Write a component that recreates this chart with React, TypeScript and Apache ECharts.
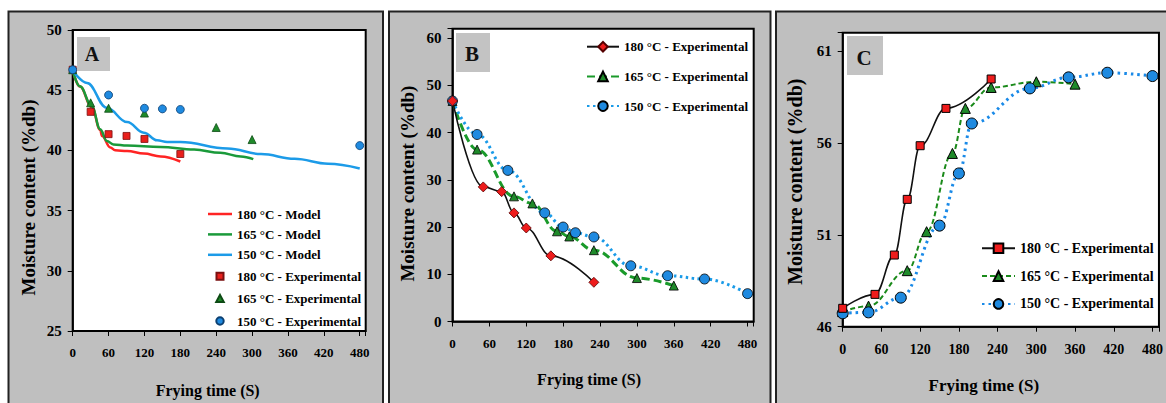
import React, { useEffect, useRef } from 'react';
import * as echarts from 'echarts';

// ---------- Data ----------
const yTicksA = [25, 30, 35, 40, 45, 50];
const yTicksB = [0, 10, 20, 30, 40, 50, 60];
const yTicksC = [46, 51, 56, 61];
const timeTicks = [0, 60, 120, 180, 240, 300, 360, 420, 480];

// Panel A – model curves (time s, moisture %db)
const modelA180 = [[0, 46.64], [12, 45.3], [32, 43.6], [46, 41.7], [49, 41.2], [63, 40.24], [71, 40.02], [91, 39.94], [119, 39.74], [147, 39.5], [180, 39.08]];
const modelA165 = [[0, 46.64], [12, 45.32], [32, 43.67], [46, 41.75], [57, 40.79], [68, 40.5], [91, 40.4], [147, 40.29], [203, 40.07], [247, 39.8], [281, 39.5], [302, 39.27]];
const modelA150 = [[0, 46.64], [24, 45.6], [57, 43.54], [91, 42.35], [119, 41.47], [141, 40.84], [158, 40.7], [180, 40.7], [259, 40.16], [315, 39.7], [371, 39.3], [427, 38.89], [480, 38.5]];
// Panel A – experimental points
const expA180 = [[0, 46.7], [30, 43.2], [60, 41.35], [90, 41.2], [120, 40.95], [180, 39.7]];
const expA165 = [[0, 46.7], [30, 43.95], [60, 43.5], [120, 43.1], [240, 41.9], [300, 40.9]];
const expA150 = [[0, 46.7], [60, 44.6], [120, 43.5], [150, 43.45], [180, 43.4], [480, 40.4]];

// Panel B
const expB180 = [[0, 46.7], [50, 28.5], [80, 27.5], [100, 23.0], [120, 19.8], [160, 13.9], [230, 8.3]];
const expB165 = [[0, 46.7], [40, 36.4], [100, 26.5], [130, 25.0], [170, 19.1], [190, 18.0], [230, 15.1], [300, 9.2], [360, 7.6]];
const expB150 = [[0, 46.7], [40, 39.6], [90, 32.0], [150, 23.0], [180, 20.0], [200, 18.8], [230, 17.9], [290, 11.8], [350, 9.7], [410, 9.0], [480, 5.9]];

// Panel C
const expC180 = [[0, 47.0], [50, 47.76], [80, 49.9], [100, 52.93], [120, 55.85], [160, 57.88], [230, 59.48]];
const expC165 = [[0, 46.82], [40, 47.12], [100, 49.05], [130, 51.17], [170, 55.43], [190, 57.88], [230, 59.02], [300, 59.33], [360, 59.2]];
const expC150 = [[0, 46.73], [40, 46.78], [90, 47.58], [150, 51.5], [180, 54.34], [200, 57.06], [290, 58.97], [350, 59.57], [410, 59.82], [480, 59.64]];

const legendText: Record<string, string> = {
  A180M: '180 °C - Model',
  A165M: '165 °C - Model',
  A150M: '150 °C - Model',
  A180E: '180 °C - Experimental',
  A165E: '165 °C - Experimental',
  A150E: '150 °C - Experimental',
  B180: '180 °C - Experimental',
  B165: '165 °C - Experimental',
  B150: '150 °C - Experimental',
  C180: '180 °C - Experimental',
  C165: '165 °C - Experimental',
  C150: '150 °C - Experimental',
};

const FONT = 'Liberation Serif, Times New Roman, serif';

function xAxis(gridIndex: number, labelSize: number, labelMargin: number, nameSize: number, nameGap: number, namePadRight: number) {
  return {
    type: 'value', gridIndex, min: 0, max: 490, interval: 60,
    axisLine: { show: true, lineStyle: { color: '#000', width: 1.5 } },
    axisTick: { show: true, inside: false, length: 5, lineStyle: { color: '#000', width: 1 } },
    splitLine: { show: false },
    axisLabel: {
      formatter: (v: number) => (timeTicks.includes(v) ? String(v) : ''),
      fontFamily: FONT, fontWeight: 'bold', fontSize: labelSize, color: '#000', margin: labelMargin,
    },
    name: 'Frying time (S)', nameLocation: 'middle', nameGap,
    nameTextStyle: { fontFamily: FONT, fontWeight: 'bold', fontSize: nameSize, color: '#000', padding: [0, namePadRight, 0, 0] },
  };
}

function yAxis(gridIndex: number, min: number, max: number, interval: number, ticks: number[], nameSize: number, nameGap: number, namePadRight: number) {
  return {
    type: 'value', gridIndex, min, max, interval,
    axisLine: { show: true, lineStyle: { color: '#000', width: 1.5 } },
    axisTick: { show: true, inside: false, length: 5, lineStyle: { color: '#000', width: 1 } },
    splitLine: { show: false },
    axisLabel: {
      formatter: (v: number) => (ticks.includes(v) ? String(v) : ''),
      fontFamily: FONT, fontWeight: 'bold', fontSize: 15, color: '#000', margin: 11,
    },
    name: 'Moisture content (%db)', nameLocation: 'middle', nameGap,
    nameTextStyle: { fontFamily: FONT, fontWeight: 'bold', fontSize: nameSize, color: '#000', padding: [0, namePadRight, 0, 0] },
  };
}

const legendTextStyle = (size: number) => ({ fontFamily: FONT, fontWeight: 'bold', fontSize: size, color: '#000' });

const lineIcon = 'path://M0,0M24,14M0,5.75h24v2.5h-24z';
const squareIcon = 'path://M0,0M24,14M8.5,3.5h7v7h-7z';
const triIcon = 'path://M0,0M24,14M12,3.3L15.8,10.5H8.2z';
const circIcon = 'path://M0,0M24,14M8.3,7a3.7,3.7 0 1,0 7.4,0a3.7,3.7 0 1,0 -7.4,0z';

const letterFont = (size: number) => `bold ${size}px Liberation Serif, serif`;

export default function App() {
  const ref = useRef<HTMLDivElement>(null);
  useEffect(() => {
    if (!ref.current) return;
    const chart = echarts.init(ref.current, null, { renderer: 'svg' });
    const option: any = {
      animation: false,
      backgroundColor: '#ffffff',
      textStyle: { fontFamily: FONT },
      grid: [
        { left: 72.7, top: 30, width: 293, height: 303, show: true, backgroundColor: '#fff', borderColor: '#000', borderWidth: 2 },
        { left: 452.5, top: 28.7, width: 301.2, height: 292.8, show: true, backgroundColor: '#fff', borderColor: '#000', borderWidth: 2 },
        { left: 842.7, top: 32.7, width: 317.3, height: 294, show: true, backgroundColor: '#fff', borderColor: '#000', borderWidth: 2 },
      ],
      xAxis: [
        xAxis(0, 13, 15, 16, 51, 23),
        xAxis(1, 13, 15, 16, 50, 28),
        xAxis(2, 14, 16, 17, 50, 34),
      ],
      yAxis: [
        yAxis(0, 25, 50, 5, yTicksA, 19, 35, 34),
        yAxis(1, 0, 62, 10, yTicksB, 19, 36, 17),
        yAxis(2, 46, 62, 5, yTicksC, 20, 38, 4),
      ],
      legend: [
        {
          orient: 'vertical', left: 207, top: 207, padding: 0, itemWidth: 24, itemHeight: 14, itemGap: 6.4,
          selectedMode: false, textStyle: legendTextStyle(13), formatter: (n: string) => legendText[n],
          data: [
            { name: 'A180M', icon: lineIcon }, { name: 'A165M', icon: lineIcon }, { name: 'A150M', icon: lineIcon },
            { name: 'A180E', icon: squareIcon }, { name: 'A165E', icon: triIcon }, { name: 'A150E', icon: circIcon },
          ],
        },
        {
          orient: 'vertical', left: 586, top: 40.2, padding: 0, itemWidth: 32, itemHeight: 12, itemGap: 16.7,
          selectedMode: false, textStyle: legendTextStyle(13), formatter: (n: string) => legendText[n],
          data: ['B180', 'B165', 'B150'],
        },
        {
          orient: 'vertical', left: 981, top: 241.3, padding: 0, itemWidth: 33, itemHeight: 12, itemGap: 13.8,
          selectedMode: false, textStyle: legendTextStyle(14), formatter: (n: string) => legendText[n],
          data: ['C180', 'C165', 'C150'],
        },
      ],
      graphic: [
        { type: 'rect', z: -10, shape: { x: 8.5, y: 11.5, width: 374.5, height: 400 }, style: { fill: '#bfbfbf', stroke: '#222', lineWidth: 2 } },
        { type: 'rect', z: -10, shape: { x: 389, y: 11.5, width: 381.5, height: 400 }, style: { fill: '#bfbfbf', stroke: '#222', lineWidth: 2 } },
        { type: 'rect', z: -10, shape: { x: 776, y: 11.5, width: 400, height: 400 }, style: { fill: '#bfbfbf', stroke: '#222', lineWidth: 2 } },
        { type: 'rect', z: 100, shape: { x: 77, y: 37, width: 33, height: 34 }, style: { fill: '#c3c3c3' } },
        { type: 'rect', z: 100, shape: { x: 456, y: 33, width: 34, height: 39 }, style: { fill: '#c3c3c3' } },
        { type: 'rect', z: 100, shape: { x: 847, y: 36, width: 36, height: 39 }, style: { fill: '#c3c3c3' } },
        { type: 'text', z: 101, x: 92, y: 54, style: { text: 'A', font: letterFont(20), fill: '#111', textAlign: 'center', textVerticalAlign: 'middle', align: 'center', verticalAlign: 'middle' } },
        { type: 'text', z: 101, x: 472, y: 54, style: { text: 'B', font: letterFont(21), fill: '#111', textAlign: 'center', textVerticalAlign: 'middle', align: 'center', verticalAlign: 'middle' } },
        { type: 'text', z: 101, x: 864, y: 58, style: { text: 'C', font: letterFont(21), fill: '#111', textAlign: 'center', textVerticalAlign: 'middle', align: 'center', verticalAlign: 'middle' } },
      ],
      series: [
        // Panel A models
        { name: 'A180M', type: 'line', xAxisIndex: 0, yAxisIndex: 0, data: modelA180, smooth: 0.4, smoothMonotone: 'x', symbol: 'none', lineStyle: { color: '#ff2424', width: 2.5 }, itemStyle: { color: '#ff2424' }, z: 2 },
        { name: 'A165M', type: 'line', xAxisIndex: 0, yAxisIndex: 0, data: modelA165, smooth: 0.4, smoothMonotone: 'x', symbol: 'none', lineStyle: { color: '#1a9a3a', width: 2.5 }, itemStyle: { color: '#1a9a3a' }, z: 2 },
        { name: 'A150M', type: 'line', xAxisIndex: 0, yAxisIndex: 0, data: modelA150, smooth: 0.4, smoothMonotone: 'x', symbol: 'none', lineStyle: { color: '#1c9be8', width: 2.5 }, itemStyle: { color: '#1c9be8' }, z: 2 },
        // Panel A experimental
        { name: 'A180E', type: 'scatter', xAxisIndex: 0, yAxisIndex: 0, data: expA180, symbol: 'rect', symbolSize: 7, itemStyle: { color: '#e8201c', borderColor: '#7a1010', borderWidth: 0.8, opacity: 1 }, z: 3 },
        { name: 'A165E', type: 'scatter', xAxisIndex: 0, yAxisIndex: 0, data: expA165, symbol: 'triangle', symbolSize: 8, itemStyle: { color: '#1f8a2a', borderColor: '#0d4a14', borderWidth: 0.8, opacity: 1 }, z: 3 },
        { name: 'A150E', type: 'scatter', xAxisIndex: 0, yAxisIndex: 0, data: expA150, symbol: 'circle', symbolSize: 8, itemStyle: { color: '#1f8ae0', borderColor: '#0c3f70', borderWidth: 0.8, opacity: 1 }, z: 3 },
        // Panel B
        { name: 'B180', type: 'line', xAxisIndex: 1, yAxisIndex: 1, data: expB180, smooth: 0.4, smoothMonotone: 'x', symbol: 'diamond', symbolSize: 10, lineStyle: { color: '#111', width: 1.6 }, itemStyle: { color: '#ee1c1c', borderColor: '#550000', borderWidth: 0.8 }, z: 3 },
        { name: 'B165', type: 'line', xAxisIndex: 1, yAxisIndex: 1, data: expB165, smooth: 0.4, smoothMonotone: 'x', symbol: 'triangle', symbolSize: 9, lineStyle: { color: '#1a9a2a', width: 3, type: [8, 4] }, itemStyle: { color: '#1f8a2a', borderColor: '#000', borderWidth: 0.8 }, z: 2 },
        { name: 'B150', type: 'line', xAxisIndex: 1, yAxisIndex: 1, data: expB150, smooth: 0.4, smoothMonotone: 'x', symbol: 'circle', symbolSize: 10, lineStyle: { color: '#1a9be8', width: 3, type: [2.5, 3.5] }, itemStyle: { color: '#1f8ae0', borderColor: '#000', borderWidth: 0.8 }, z: 2 },
        // Panel C
        { name: 'C180', type: 'line', xAxisIndex: 2, yAxisIndex: 2, data: expC180, smooth: 0.4, smoothMonotone: 'x', symbol: 'rect', symbolSize: 8, lineStyle: { color: '#111', width: 1.6 }, itemStyle: { color: '#ee1c1c', borderColor: '#000', borderWidth: 1 }, z: 3 },
        { name: 'C165', type: 'line', xAxisIndex: 2, yAxisIndex: 2, data: expC165, smooth: 0.4, smoothMonotone: 'x', symbol: 'triangle', symbolSize: 10, lineStyle: { color: '#1a8a1a', width: 2, type: [5, 3] }, itemStyle: { color: '#1f8a2a', borderColor: '#000', borderWidth: 1 }, z: 2 },
        { name: 'C150', type: 'line', xAxisIndex: 2, yAxisIndex: 2, data: expC150, smooth: 0.4, smoothMonotone: 'x', symbol: 'circle', symbolSize: 11, lineStyle: { color: '#1a8ae8', width: 3, type: [2.5, 4] }, itemStyle: { color: '#1f8ae0', borderColor: '#000', borderWidth: 1 }, z: 2 },
      ],
    };
    chart.setOption(option);
    return () => chart.dispose();
  }, []);
  return <div ref={ref} style={{ position: 'absolute', left: 0, top: 0, width: 1166, height: 403 }} />;
}
